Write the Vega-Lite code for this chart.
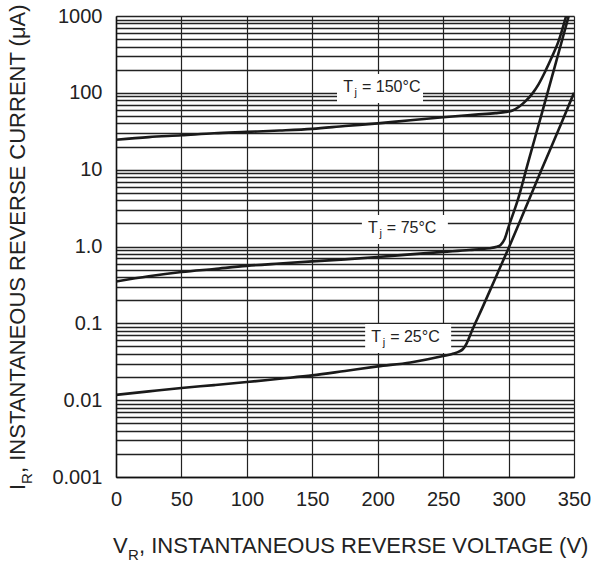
{
  "$schema": "https://vega.github.io/schema/vega-lite/v6.json",
  "width": 458,
  "height": 461,
  "autosize": {"type": "none"},
  "padding": {"left": 116, "top": 16, "right": 23, "bottom": 85},
  "background": "white",
  "config": {"font": "Liberation Sans", "view": {"stroke": null}, "axis": {"labelFont": "Liberation Sans"}},
  "datasets": {
    "curves": [
      {"tj": "25", "v": 0, "i": 0.0117}, {"tj": "25", "v": 25, "i": 0.013}, {"tj": "25", "v": 50, "i": 0.0144},
      {"tj": "25", "v": 75, "i": 0.0157}, {"tj": "25", "v": 100, "i": 0.0172}, {"tj": "25", "v": 125, "i": 0.019},
      {"tj": "25", "v": 150, "i": 0.021}, {"tj": "25", "v": 175, "i": 0.024}, {"tj": "25", "v": 200, "i": 0.0275},
      {"tj": "25", "v": 225, "i": 0.031}, {"tj": "25", "v": 250, "i": 0.0375}, {"tj": "25", "v": 258, "i": 0.0405},
      {"tj": "25", "v": 262, "i": 0.0428}, {"tj": "25", "v": 265, "i": 0.046}, {"tj": "25", "v": 268, "i": 0.055},
      {"tj": "25", "v": 272, "i": 0.08}, {"tj": "25", "v": 280, "i": 0.16}, {"tj": "25", "v": 290, "i": 0.39},
      {"tj": "25", "v": 300, "i": 0.95}, {"tj": "25", "v": 310, "i": 2.4}, {"tj": "25", "v": 325, "i": 9.8},
      {"tj": "25", "v": 340, "i": 39}, {"tj": "25", "v": 350, "i": 100},
      {"tj": "75", "v": 0, "i": 0.35}, {"tj": "75", "v": 25, "i": 0.41}, {"tj": "75", "v": 50, "i": 0.465},
      {"tj": "75", "v": 75, "i": 0.51}, {"tj": "75", "v": 100, "i": 0.56}, {"tj": "75", "v": 125, "i": 0.6},
      {"tj": "75", "v": 150, "i": 0.64}, {"tj": "75", "v": 175, "i": 0.68}, {"tj": "75", "v": 200, "i": 0.73},
      {"tj": "75", "v": 225, "i": 0.79}, {"tj": "75", "v": 250, "i": 0.85}, {"tj": "75", "v": 270, "i": 0.9},
      {"tj": "75", "v": 285, "i": 0.95}, {"tj": "75", "v": 291, "i": 0.99}, {"tj": "75", "v": 294, "i": 1.05},
      {"tj": "75", "v": 297, "i": 1.25}, {"tj": "75", "v": 300, "i": 1.8}, {"tj": "75", "v": 307, "i": 4.0},
      {"tj": "75", "v": 315, "i": 12.5}, {"tj": "75", "v": 325, "i": 51}, {"tj": "75", "v": 335, "i": 210},
      {"tj": "75", "v": 346, "i": 1000},
      {"tj": "150", "v": 0, "i": 24.5}, {"tj": "150", "v": 25, "i": 26.5}, {"tj": "150", "v": 50, "i": 28},
      {"tj": "150", "v": 75, "i": 29.8}, {"tj": "150", "v": 100, "i": 31}, {"tj": "150", "v": 125, "i": 32.3},
      {"tj": "150", "v": 150, "i": 34}, {"tj": "150", "v": 175, "i": 37}, {"tj": "150", "v": 200, "i": 40},
      {"tj": "150", "v": 225, "i": 44}, {"tj": "150", "v": 250, "i": 48}, {"tj": "150", "v": 275, "i": 52},
      {"tj": "150", "v": 290, "i": 54.5}, {"tj": "150", "v": 298, "i": 56.5}, {"tj": "150", "v": 303, "i": 59},
      {"tj": "150", "v": 308, "i": 66}, {"tj": "150", "v": 313, "i": 78}, {"tj": "150", "v": 318, "i": 97},
      {"tj": "150", "v": 323, "i": 130}, {"tj": "150", "v": 328, "i": 190}, {"tj": "150", "v": 333, "i": 290},
      {"tj": "150", "v": 338, "i": 460}, {"tj": "150", "v": 344, "i": 1000}
    ],
    "labels": [
      {"tj": "150", "v": 188, "i": 102.5, "text": "= 150°C"},
      {"tj": "75", "v": 207, "i": 1.5, "text": "= 75°C"},
      {"tj": "25", "v": 209.5, "i": 0.0571, "text": "= 25°C"}
    ]
  },
  "layer": [
    {
      "data": {"name": "curves"},
      "mark": {"type": "line", "interpolate": "monotone", "strokeWidth": 2.6, "color": "#1a1a1a", "clip": true},
      "encoding": {
        "x": {
          "field": "v", "type": "quantitative", "title": null,
          "scale": {"domain": [0, 350], "nice": false, "zero": false},
          "axis": {
            "values": [0, 50, 100, 150, 200, 250, 300, 350],
            "grid": true, "gridColor": "#222", "gridWidth": 1.2, "gridOpacity": 1,
            "ticks": false, "tickSize": 0, "domain": true, "domainColor": "#111", "domainWidth": 1.5,
            "labelFontSize": 20, "labelColor": "#222", "labelPadding": 12, "labelFlush": false, "labelOverlap": false
          }
        },
        "y": {
          "field": "i", "type": "quantitative", "title": null,
          "scale": {"type": "log", "domain": [0.001, 1000], "nice": false},
          "axis": {
            "values": [0.001, 0.002, 0.003, 0.004, 0.005, 0.006, 0.007, 0.008, 0.009,
                       0.01, 0.02, 0.03, 0.04, 0.05, 0.06, 0.07, 0.08, 0.09,
                       0.1, 0.2, 0.3, 0.4, 0.5, 0.6, 0.7, 0.8, 0.9,
                       1, 2, 3, 4, 5, 6, 7, 8, 9,
                       10, 20, 30, 40, 50, 60, 70, 80, 90,
                       100, 200, 300, 400, 500, 600, 700, 800, 900, 1000],
            "labelExpr": "datum.value == 1000 ? '1000' : datum.value == 100 ? '100' : datum.value == 10 ? '10' : datum.value == 1 ? '1.0' : datum.value == 0.1 ? '0.1' : datum.value == 0.01 ? '0.01' : datum.value == 0.001 ? '0.001' : ''",
            "grid": true, "gridColor": "#222", "gridWidth": 1.4, "gridOpacity": 1,
            "ticks": false, "tickSize": 0, "domain": true, "domainColor": "#111", "domainWidth": 1.5,
            "labelFontSize": 20, "labelColor": "#222", "labelPadding": 14, "labelOverlap": false
          }
        },
        "detail": {"field": "tj"}
      }
    },
    {
      "data": {"name": "labels"},
      "mark": {"type": "point", "shape": "M-25,-18H61V11H-25Z", "size": 4, "filled": true, "color": "white", "opacity": 1, "strokeWidth": 0},
      "encoding": {
        "x": {"field": "v", "type": "quantitative", "title": null},
        "y": {"field": "i", "type": "quantitative", "title": null}
      }
    },
    {
      "data": {"name": "labels"},
      "mark": {"type": "text", "text": "T", "align": "right", "baseline": "alphabetic", "dx": -9, "fontSize": 16, "color": "#222"},
      "encoding": {
        "x": {"field": "v", "type": "quantitative", "title": null},
        "y": {"field": "i", "type": "quantitative", "title": null}
      }
    },
    {
      "data": {"name": "labels"},
      "mark": {"type": "text", "text": "j", "align": "right", "baseline": "alphabetic", "dx": -5, "dy": 4, "fontSize": 11, "color": "#222"},
      "encoding": {
        "x": {"field": "v", "type": "quantitative", "title": null},
        "y": {"field": "i", "type": "quantitative", "title": null}
      }
    },
    {
      "data": {"name": "labels"},
      "mark": {"type": "text", "align": "left", "baseline": "alphabetic", "fontSize": 16, "color": "#222"},
      "encoding": {
        "x": {"field": "v", "type": "quantitative", "title": null},
        "y": {"field": "i", "type": "quantitative", "title": null},
        "text": {"field": "text"}
      }
    },
    {
      "data": {"values": [{}]},
      "mark": {"type": "text", "text": "V", "align": "left", "baseline": "alphabetic", "dx": -3, "dy": 76, "fontSize": 22, "color": "#222"},
      "encoding": {"x": {"datum": 0, "type": "quantitative"}, "y": {"datum": 0.001, "type": "quantitative"}}
    },
    {
      "data": {"values": [{}]},
      "mark": {"type": "text", "text": "R", "align": "left", "baseline": "alphabetic", "dx": 12, "dy": 83, "fontSize": 15, "color": "#222"},
      "encoding": {"x": {"datum": 0, "type": "quantitative"}, "y": {"datum": 0.001, "type": "quantitative"}}
    },
    {
      "data": {"values": [{}]},
      "mark": {"type": "text", "text": ", INSTANTANEOUS REVERSE VOLTAGE (V)", "align": "left", "baseline": "alphabetic", "dx": 23, "dy": 76, "fontSize": 22, "color": "#222"},
      "encoding": {"x": {"datum": 0, "type": "quantitative"}, "y": {"datum": 0.001, "type": "quantitative"}}
    },
    {
      "data": {"values": [{}]},
      "mark": {"type": "text", "text": "I", "angle": 270, "align": "left", "baseline": "alphabetic", "dx": -13, "dy": -91, "fontSize": 22, "color": "#222"},
      "encoding": {"x": {"datum": 0, "type": "quantitative"}, "y": {"datum": 0.001, "type": "quantitative"}}
    },
    {
      "data": {"values": [{}]},
      "mark": {"type": "text", "text": "R", "angle": 270, "align": "left", "baseline": "alphabetic", "dx": -7, "dy": -84, "fontSize": 15, "color": "#222"},
      "encoding": {"x": {"datum": 0, "type": "quantitative"}, "y": {"datum": 0.001, "type": "quantitative"}}
    },
    {
      "data": {"values": [{}]},
      "mark": {"type": "text", "text": ", INSTANTANEOUS REVERSE CURRENT (μA)", "angle": 270, "align": "left", "baseline": "alphabetic", "dx": 4, "dy": -91, "fontSize": 22, "color": "#222"},
      "encoding": {"x": {"datum": 0, "type": "quantitative"}, "y": {"datum": 0.001, "type": "quantitative"}}
    }
  ]
}
